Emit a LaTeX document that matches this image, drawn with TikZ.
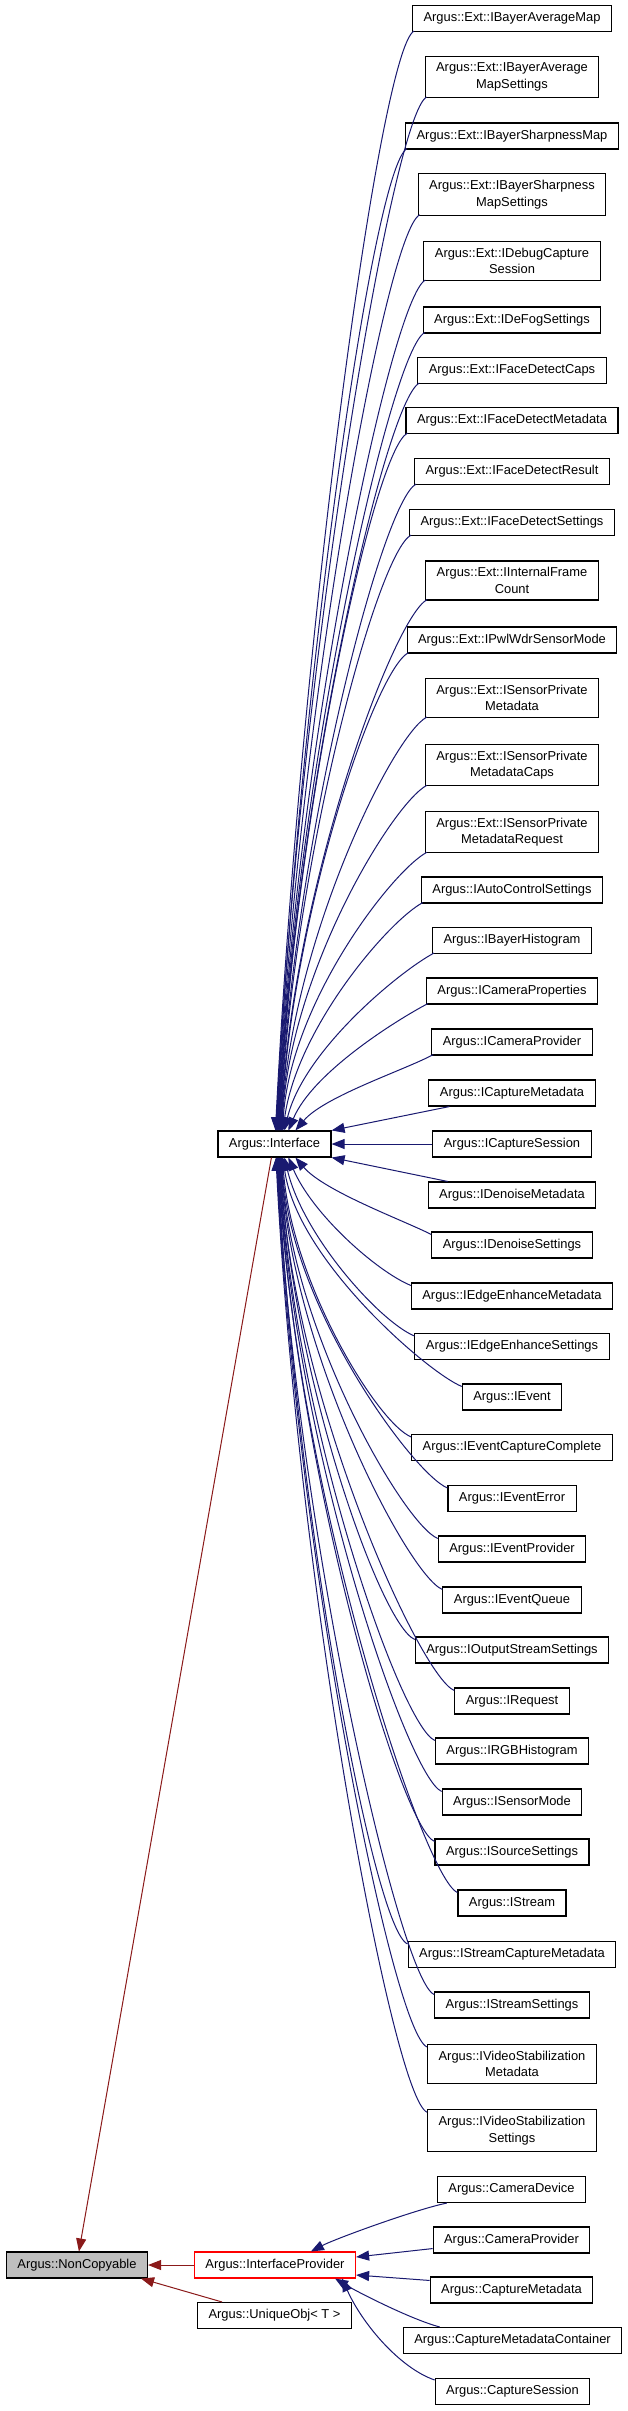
\documentclass[tikz,border=0pt]{standalone}
\usepackage{fontspec}
\setmainfont{Liberation Sans}
\usetikzlibrary{arrows.meta,calc}
\definecolor{edgeblue}{HTML}{191970}
\definecolor{edgered}{HTML}{8B1A1A}
\definecolor{ncgrey}{HTML}{BFBFBF}
\begin{document}
\begin{tikzpicture}[x=1pt,y=1pt,
  cls/.style={draw=black, line width=1.1pt, fill=white, font=\fontsize{12.9}{16.5}\selectfont, align=center, inner xsep=11pt, inner ysep=6.5pt, minimum height=26pt},
  edge/.style={draw=edgeblue, line width=1pt, -{Triangle[length=13pt,width=10pt]}},
  redge/.style={draw=edgered, line width=1pt, -{Triangle[length=13pt,width=10pt]}}]
\fill[white] (0,0) rectangle (627,-2411);
\useasboundingbox (0,0) rectangle (627,-2411);

% left nodes
\node[cls] (iface) at (274.5,-1144) {Argus::Interface};
\node[cls, fill=ncgrey] (nc) at (77,-2265) {Argus::NonCopyable};
\node[cls, draw=red] (ip) at (275,-2265) {Argus::InterfaceProvider};
\node[cls] (uo) at (274.5,-2315.5) {Argus::UniqueObj< T >};

% right column (Interface children)
\foreach \i/\t/\yy in {
 1/{Argus::Ext::IBayerAverageMap}/18.5,
 2/{Argus::Ext::IBayerAverage\\MapSettings}/77,
 3/{Argus::Ext::IBayerSharpnessMap}/136,
 4/{Argus::Ext::IBayerSharpness\\MapSettings}/194.5,
 5/{Argus::Ext::IDebugCapture\\Session}/261,
 6/{Argus::Ext::IDeFogSettings}/320,
 7/{Argus::Ext::IFaceDetectCaps}/370.5,
 8/{Argus::Ext::IFaceDetectMetadata}/420.5,
 9/{Argus::Ext::IFaceDetectResult}/471.5,
 10/{Argus::Ext::IFaceDetectSettings}/522.5,
 11/{Argus::Ext::IInternalFrame\\Count}/580.5,
 12/{Argus::Ext::IPwlWdrSensorMode}/640,
 13/{Argus::Ext::ISensorPrivate\\Metadata}/698,
 14/{Argus::Ext::ISensorPrivate\\MetadataCaps}/765,
 15/{Argus::Ext::ISensorPrivate\\MetadataRequest}/832,
 16/{Argus::IAutoControlSettings}/890,
 17/{Argus::IBayerHistogram}/940.5,
 18/{Argus::ICameraProperties}/991,
 19/{Argus::ICameraProvider}/1042,
 20/{Argus::ICaptureMetadata}/1093,
 21/{Argus::ICaptureSession}/1144,
 22/{Argus::IDenoiseMetadata}/1195,
 23/{Argus::IDenoiseSettings}/1245,
 24/{Argus::IEdgeEnhanceMetadata}/1296,
 25/{Argus::IEdgeEnhanceSettings}/1346.5,
 26/{Argus::IEvent}/1397,
 27/{Argus::IEventCaptureComplete}/1447.5,
 28/{Argus::IEventError}/1498.5,
 29/{Argus::IEventProvider}/1549,
 30/{Argus::IEventQueue}/1600,
 31/{Argus::IOutputStreamSettings}/1650,
 32/{Argus::IRequest}/1701,
 33/{Argus::IRGBHistogram}/1751,
 34/{Argus::ISensorMode}/1802,
 35/{Argus::ISourceSettings}/1852,
 36/{Argus::IStream}/1903,
 37/{Argus::IStreamCaptureMetadata}/1954.5,
 38/{Argus::IStreamSettings}/2005,
 39/{Argus::IVideoStabilization\\Metadata}/2064,
 40/{Argus::IVideoStabilization\\Settings}/2130.5}
 {\node[cls] (r\i) at (512,-\yy) {\t};}

% right column (InterfaceProvider children)
\node[cls] (p1) at (511.5,-2189.5) {Argus::CameraDevice};
\node[cls] (p2) at (511.5,-2240) {Argus::CameraProvider};
\node[cls] (p3) at (511.5,-2290) {Argus::CaptureMetadata};
\node[cls] (p4) at (512.5,-2340.5) {Argus::CaptureMetadataContainer};
\node[cls] (p5) at (512.5,-2391.5) {Argus::CaptureSession};

% upper curved edges
\foreach \i/\yy/\ee in {1/18.5/58,2/77/58.5,3/136/59,4/194.5/59.5,5/261/60,6/320/60.5,7/370.5/61,8/420.5/61.5,9/471.5/62,10/522.5/62.5,11/580.5/63,12/640/63.5,13/698/64,14/765/64.5,15/832/65,16/890/65.5,17/940.5/67,18/991/71,19/1042/78}{
  \pgfmathsetmacro\dd{1131-\yy-13}
  \pgfmathsetmacro\ca{min(34,0.3*\dd+5)}
  \pgfmathsetmacro\cb{min(18,0.2*\dd)}
  \pgfmathsetmacro\cc{0.023*\dd+0.25*max(0,300-\dd)/300*145}
  \pgfmathsetmacro\cd{0.45*\dd}
  \draw[edge] ([shift={(2pt,1pt)}]r\i.south west) .. controls +(-\ca,-\cb) and +(\cc,\cd) .. ([xshift=\ee pt]iface.north west);
}
% lower curved edges
\foreach \i/\yy/\ee in {23/1245/78,24/1296/71,25/1346.5/67,26/1397/65.5,27/1447.5/65,28/1498.5/64.5,29/1549/64,30/1600/63.5,31/1650/63,32/1701/62.5,33/1751/62,34/1802/61.5,35/1852/61,36/1903/60.5,37/1954.5/60,38/2005/59.5,39/2064/59,40/2130.5/58.5}{
  \pgfmathsetmacro\dd{\yy-13-1157}
  \pgfmathsetmacro\ca{min(34,0.3*\dd+5)}
  \pgfmathsetmacro\cb{min(14,0.2*\dd)}
  \pgfmathsetmacro\cc{0.023*\dd+0.25*max(0,300-\dd)/300*145}
  \pgfmathsetmacro\cd{0.45*\dd}
  \draw[edge] ([yshift=-3pt]r\i.north west) .. controls +(-\ca,\cb) and +(\cc,-\cd) .. ([xshift=\ee pt]iface.south west);
}
% straight edges near Interface
\draw[edge] ([xshift=21pt]r20.south west) -- (iface.north east);
\draw[edge] (r21.west) -- (iface.east);
\draw[edge] ([xshift=20pt]r22.north west) -- (iface.south east);

% InterfaceProvider edges
\draw[edge] ([xshift=10pt]p1.south west) .. controls +(-30,-6) and +(25,13) .. ([xshift=117pt]ip.north west);
\draw[edge] ([yshift=5pt]p2.south west) -- ([yshift=8pt]ip.east);
\draw[edge] ([yshift=-4pt]p3.north west) -- ([yshift=-10pt]ip.east);
\draw[edge] ([xshift=37pt]p4.north west) .. controls +(-30,8) and +(20,-12) .. ([xshift=-21pt]ip.south east);
\draw[edge] ([yshift=-2pt]p5.north west) .. controls +(-35,12) and +(20,-45) .. ([xshift=-14pt]ip.south east);

% NonCopyable edges
\draw[redge] ([xshift=54pt]iface.south west) -- ([xshift=73pt]nc.north west);
\draw[redge] (ip.west) -- (nc.east);
\draw[redge] ([xshift=25pt]uo.north west) -- ([xshift=-7pt]nc.south east);
\end{tikzpicture}
\end{document}
